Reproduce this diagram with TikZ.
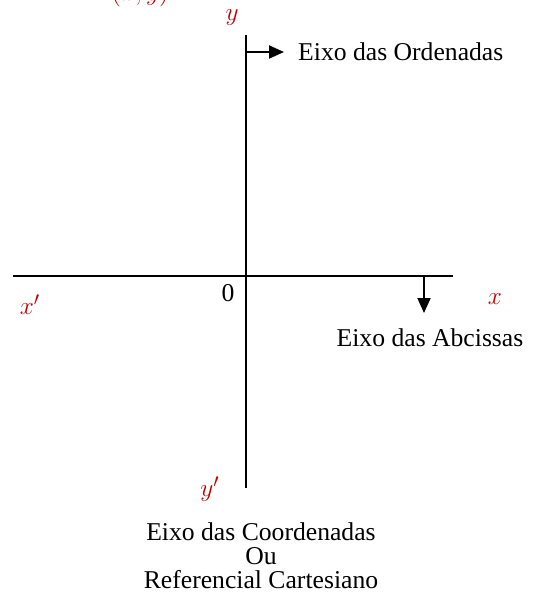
\documentclass[tikz,border=0pt]{standalone}
\usepackage{fontspec}
\setmainfont{Liberation Serif}
\usetikzlibrary{arrows.meta}

\definecolor{axisred}{RGB}{192,0,0}

\begin{document}
\begin{tikzpicture}[x=0.02cm, y=-0.02cm,
    axis/.style={line width=1.1pt},
    pointer/.style={line width=1.1pt, -{Triangle[length=3mm, width=2.6mm]}},
    varname/.style={text=axisred, font=\fontsize{15}{17}\selectfont},
    caption/.style={font=\fontsize{14.6}{13.6}\selectfont}]
  \useasboundingbox (0,0) rectangle (539,596);

  \coordinate (yt) at (246, 35);
  \coordinate (yb) at (246, 488);
  \coordinate (xl) at (13, 276);
  \coordinate (xr) at (453, 276);
  \coordinate (ya) at (246, 52);
  \coordinate (xa) at (424, 276);

  \draw[axis] (yt) -- (yb);
  \draw[axis] (xl) -- (xr);

  \node[caption, anchor=west] (ord) at (292, 52) {Eixo das Ordenadas};
  \node[caption] (abc) at (430, 338) {Eixo das Abcissas};
  \node[caption, align=center] (ref) at (261, 556) {Eixo das Coordenadas\\Ou\\Referencial Cartesiano};
  \node[caption] (orig) at (228, 293) {0};

  \coordinate (yend) at (284, 52);
  \coordinate (xend) at (424, 313);
  \draw[pointer] (ya) -- (yend);
  \draw[pointer] (xa) -- (xend);

  \node[varname] (lx) at (495, 299) {$x$};
  \node[varname] (lxx) at (30, 305) {$x'$};
  \node[varname] (ly) at (232, 18) {$y$};
  \node[varname] (lyy) at (210, 489) {$y'$};
  \node[varname, anchor=base] (pt) at (140, 0) {$(x,y)$};
\end{tikzpicture}
\end{document}
